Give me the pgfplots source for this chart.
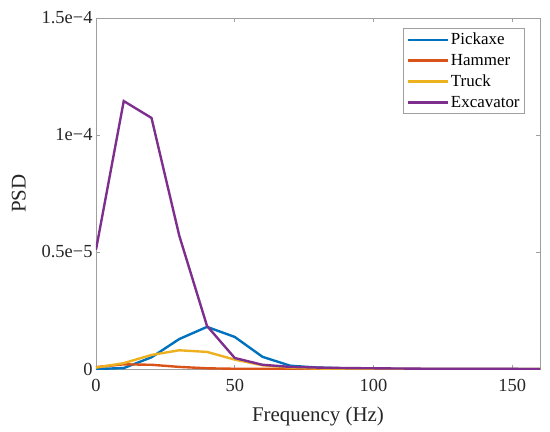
\documentclass[border=0pt]{standalone}
\usepackage{pgfplots}
\pgfplotsset{compat=1.18}
\usepackage{fontspec}
\setmainfont{Liberation Serif}
\definecolor{mblue}{rgb}{0,0.447,0.741}
\definecolor{morange}{rgb}{0.85,0.325,0.098}
\definecolor{myellow}{rgb}{0.929,0.694,0.125}
\definecolor{mpurple}{rgb}{0.494,0.184,0.556}
\begin{document}
\begin{tikzpicture}[x=1bp,y=1bp]
\useasboundingbox (-96bp,-63bp) rectangle (454bp,369bp);
\begin{axis}[
  at={(0,0)}, anchor=south west,
  width=444bp, height=351bp, scale only axis,
  xmin=0, xmax=160, ymin=0, ymax=1.5e-4,
  scaled y ticks=false, scaled x ticks=false,
  xtick={0,50,100,150},
  xticklabels={0,50,100,150},
  ytick={0,0.5e-4,1e-4,1.5e-4},
  yticklabels={0,0.5e−5,1e−4,1.5e−4},
  tick align=inside,
  major tick length=4bp,
  axis line style={gray!75, line width=0.6pt},
  tick style={gray!75, line width=0.6pt},
  ticklabel style={font=\fontsize{18.5}{21}\selectfont, text=black!85},
  xticklabel style={yshift=-7bp},
  /pgf/number format/assume math mode=true,
  xlabel={Frequency (Hz)}, ylabel={PSD},
  label style={font=\fontsize{21}{23}\selectfont, text=black!85},
  xlabel style={yshift=-8bp},
  ylabel style={yshift=9bp},
  legend style={at={(0.966,0.972)}, anchor=north east, draw=gray!75, line width=0.6pt,
    font=\fontsize{17}{18}\selectfont, row sep=4pt, inner sep=3pt},
  legend cell align=left,
  legend image code/.code={\draw[#1, line width=2.4pt] (0bp,0bp) -- (40bp,0bp);},
]
\addplot[mblue, line width=2.4pt] coordinates {(0,0) (10,0.004e-4) (20,0.05e-4) (30,0.128e-4) (40,0.18e-4) (50,0.137e-4) (60,0.052e-4) (70,0.014e-4) (80,0.006e-4) (90,0.003e-4) (100,0.001e-4) (110,0) (120,0) (130,0) (140,0) (150,0) (160,0)};
\addlegendentry{Pickaxe}
\addplot[morange, line width=2.4pt] coordinates {(0,0.008e-4) (10,0.02e-4) (20,0.018e-4) (30,0.009e-4) (40,0.003e-4) (50,0.001e-4) (60,0.0005e-4) (70,0) (80,0) (90,0) (100,0) (110,0) (120,0) (130,0) (140,0) (150,0) (160,0)};
\addlegendentry{Hammer}
\addplot[myellow, line width=2.4pt] coordinates {(0,0.006e-4) (10,0.025e-4) (20,0.06e-4) (30,0.08e-4) (40,0.073e-4) (50,0.04e-4) (60,0.016e-4) (70,0.006e-4) (80,0.002e-4) (90,0.001e-4) (100,0) (110,0) (120,0) (130,0) (140,0) (150,0) (160,0)};
\addlegendentry{Truck}
\addplot[mpurple, line width=2.4pt] coordinates {(0,0.51e-4) (10,1.145e-4) (20,1.073e-4) (30,0.57e-4) (40,0.184e-4) (50,0.047e-4) (60,0.018e-4) (70,0.009e-4) (80,0.006e-4) (90,0.004e-4) (100,0.003e-4) (110,0.002e-4) (120,0.001e-4) (130,0.001e-4) (140,0.0005e-4) (150,0.0003e-4) (160,0)};
\addlegendentry{Excavator}
\end{axis}
\end{tikzpicture}
\end{document}
